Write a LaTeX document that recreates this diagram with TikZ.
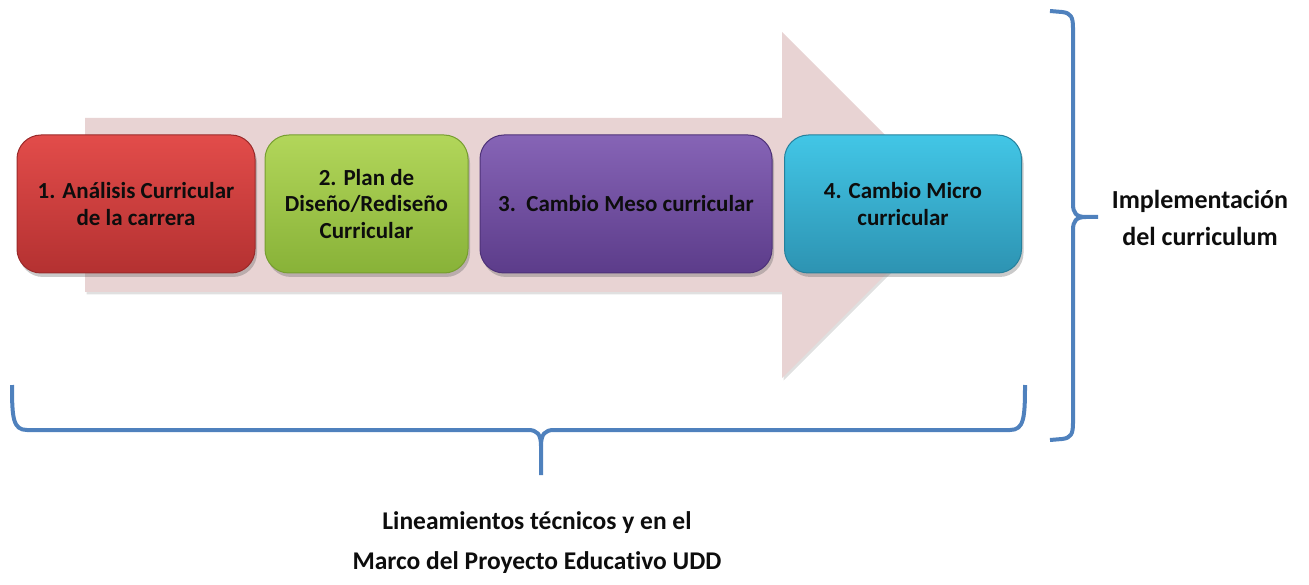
\documentclass[tikz,border=0pt]{standalone}
\usepackage{fontspec}
\setmainfont{Carlito}[RawFeature={-liga;-dlig}]
\usetikzlibrary{shadows}
\definecolor{arrowpink}{HTML}{E8D3D3}
\definecolor{bracecol}{HTML}{4F81BD}
\definecolor{redT}{HTML}{E24C4A}
\definecolor{redB}{HTML}{B43131}
\definecolor{redD}{HTML}{9A2A2A}
\definecolor{grnT}{HTML}{B2D65A}
\definecolor{grnB}{HTML}{88B238}
\definecolor{grnD}{HTML}{779E30}
\definecolor{purT}{HTML}{8664B6}
\definecolor{purB}{HTML}{5C3C8A}
\definecolor{purD}{HTML}{4E3278}
\definecolor{cyaT}{HTML}{42C6E6}
\definecolor{cyaB}{HTML}{2D93B2}
\definecolor{cyaD}{HTML}{25809C}
\tikzset{
  stepbox/.style={rounded corners=24pt, minimum height=138pt, align=center,
    inner sep=4pt, font=\fontsize{23}{26.5}\selectfont\bfseries, text=black!95,
    line width=1pt, drop shadow={shadow xshift=2pt, shadow yshift=-4pt, opacity=0.35, fill=black!60}},
  bracestyle/.style={draw=bracecol, line width=4pt, line join=round},
  sidelabel/.style={align=center, font=\fontsize{26}{37}\selectfont\bfseries, text=black!95}
}
\begin{document}
\begin{tikzpicture}[x=1pt,y=-1pt]
\useasboundingbox (0,0) rectangle (1309,585);
% big background arrow
\fill[black!12, xshift=1.5pt, yshift=-2.5pt] (85,118) -- (782,118) -- (782,32) -- (955,205) -- (782,378) -- (782,292) -- (85,292) -- cycle;
\fill[arrowpink] (85,118) -- (782,118) -- (782,32) -- (955,205) -- (782,378) -- (782,292) -- (85,292) -- cycle;
% step boxes
\node[stepbox, minimum width=238pt, draw=redD, top color=redT, bottom color=redB] (s1) at (136,204) {1. Análisis Curricular\\de la carrera};
\node[stepbox, minimum width=203pt, draw=grnD, top color=grnT, bottom color=grnB] (s2) at (366.5,204) {2. Plan de\\Diseño/Rediseño\\Curricular};
\node[stepbox, minimum width=292pt, draw=purD, top color=purT, bottom color=purB] (s3) at (626,204) {3.\ \ Cambio Meso curricular};
\node[stepbox, minimum width=237pt, draw=cyaD, top color=cyaT, bottom color=cyaB] (s4) at (903,204) {4. Cambio Micro\\curricular};
% bottom brace
\draw[bracestyle] (12,385) .. controls (12,418) and (13,430) .. (27,430) -- (528,430)
  .. controls (537,430) and (541,434) .. (541,446) -- (541,475);
\draw[bracestyle] (1025,385) .. controls (1025,418) and (1024,430) .. (1010,430) -- (554,430)
  .. controls (545,430) and (541,434) .. (541,446);
% right brace
\draw[bracestyle] (1050,11) -- (1062,12) .. controls (1071,13) and (1073,17) .. (1073,28) -- (1073,204)
  .. controls (1073,213) and (1076,217) .. (1086,217) -- (1098,217);
\draw[bracestyle] (1050,440) -- (1062,439) .. controls (1071,438) and (1073,434) .. (1073,423) -- (1073,230)
  .. controls (1073,221) and (1076,217) .. (1086,217);
% labels
\node[sidelabel] (impl) at (1200,218) {Implementación\\del curriculum};
\node[sidelabel, font=\fontsize{25.5}{40}\selectfont\bfseries] (linea) at (537,543) {Lineamientos técnicos y en el\\Marco del Proyecto Educativo UDD};
\end{tikzpicture}
\end{document}
